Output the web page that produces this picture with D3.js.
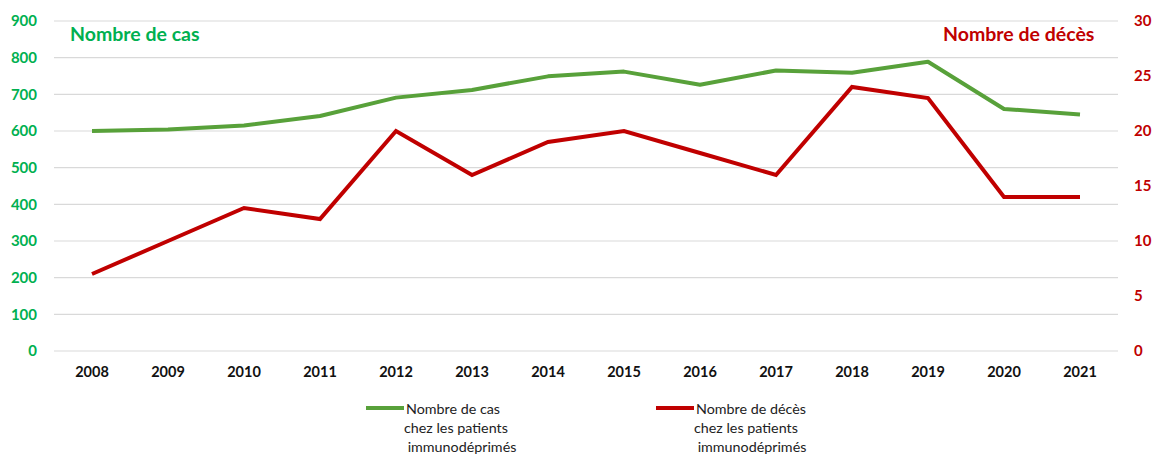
<!DOCTYPE html>
<html>
<head>
<meta charset="utf-8">
<script src="https://cdn.jsdelivr.net/npm/d3@7"></script>
<style>
body { margin: 0; background: #fff; }
text { font-family: Lato, "Open Sans", sans-serif; }
</style>
</head>
<body>
<div id="chart"></div>
<script>
var years = ["2008","2009","2010","2011","2012","2013","2014","2015","2016","2017","2018","2019","2020","2021"];
var cases = [600, 604, 615, 641, 691, 712, 749, 762, 726, 765, 759, 789, 660, 645];
var deaths = [7, 10, 13, 12, 20, 16, 19, 20, 18, 16, 24, 23, 14, 14];
var leftTicks = [0, 100, 200, 300, 400, 500, 600, 700, 800, 900];
var rightTicks = [0, 5, 10, 15, 20, 25, 30];

var w = 1153, h = 455;
var greenText = "#00B050", greenLine = "#58A13A", red = "#C00000";

var svg = d3.select("#chart").append("svg")
    .attr("width", w)
    .attr("height", h);

var x = d3.scaleBand().domain(years).range([54, 1118]);
var yL = d3.scaleLinear().domain([0, 900]).range([351, 21]);
var yR = d3.scaleLinear().domain([0, 30]).range([351, 21]);

// gridlines
svg.selectAll("line.grid")
    .data(leftTicks)
    .enter().append("line")
    .attr("class", "grid")
    .attr("x1", 54).attr("x2", 1118)
    .attr("y1", function(d) { return yL(d); })
    .attr("y2", function(d) { return yL(d); })
    .attr("stroke", "#d9d9d9")
    .attr("stroke-width", 1.2);

// left axis
var axL = svg.append("g").attr("transform", "translate(54,0)")
    .call(d3.axisLeft(yL).tickValues(leftTicks).tickSize(0).tickPadding(17));
axL.select(".domain").remove();
axL.selectAll("text")
    .attr("fill", greenText)
    .attr("font-size", 15)
    .attr("font-weight", "bold")
    .attr("font-family", "Lato, sans-serif");

// right axis
var axR = svg.append("g").attr("transform", "translate(1118,0)")
    .call(d3.axisRight(yR).tickValues(rightTicks).tickSize(0).tickPadding(16));
axR.select(".domain").remove();
axR.selectAll("text")
    .attr("fill", red)
    .attr("font-size", 15)
    .attr("font-weight", "bold")
    .attr("font-family", "Lato, sans-serif");

// x axis
var axX = svg.append("g").attr("transform", "translate(0,351)")
    .call(d3.axisBottom(x).tickSize(0).tickPadding(16));
axX.select(".domain").remove();
axX.selectAll("text")
    .attr("fill", "#111")
    .attr("font-size", 14.5)
    .attr("font-weight", "bold")
    .attr("font-family", "Lato, sans-serif");

function cx(d, i) { return x(years[i]) + x.bandwidth() / 2; }

svg.append("path")
    .datum(cases)
    .attr("fill", "none")
    .attr("stroke", greenLine)
    .attr("stroke-width", 4)
    .attr("stroke-linejoin", "round")
    .attr("d", d3.line().x(cx).y(function(d) { return yL(d); }));

svg.append("path")
    .datum(deaths)
    .attr("fill", "none")
    .attr("stroke", red)
    .attr("stroke-width", 4)
    .attr("d", d3.line().x(cx).y(function(d) { return yR(d); }));

// axis titles
svg.append("text")
    .attr("x", 70).attr("y", 41)
    .attr("fill", greenText)
    .attr("font-size", 19.5)
    .attr("font-weight", "bold")
    .text("Nombre de cas");

svg.append("text")
    .attr("x", 943).attr("y", 41)
    .attr("fill", red)
    .attr("font-size", 19.5)
    .attr("font-weight", "bold")
    .text("Nombre de décès");

// legend
var legend = [
    {color: greenLine, x: 366, lines: ["Nombre de cas", "chez les patients", " immunodéprimés"]},
    {color: red, x: 656, lines: ["Nombre de décès", "chez les patients", " immunodéprimés"]}
];
var lg = svg.selectAll("g.legend")
    .data(legend)
    .enter().append("g")
    .attr("class", "legend")
    .attr("transform", function(d) { return "translate(" + d.x + ",0)"; });
lg.append("line")
    .attr("x1", 0).attr("x2", 38)
    .attr("y1", 408).attr("y2", 408)
    .attr("stroke", function(d) { return d.color; })
    .attr("stroke-width", 4);
lg.each(function(d) {
    var g = d3.select(this);
    d.lines.forEach(function(t, i) {
        g.append("text")
            .attr("x", i == 0 ? 40 : 38)
            .attr("y", 414 + i * 19)
            .attr("fill", "#222")
            .attr("font-size", 14.3)
            .attr("xml:space", "preserve")
            .style("white-space", "pre")
            .text(t);
    });
});
</script>
</body>
</html>
